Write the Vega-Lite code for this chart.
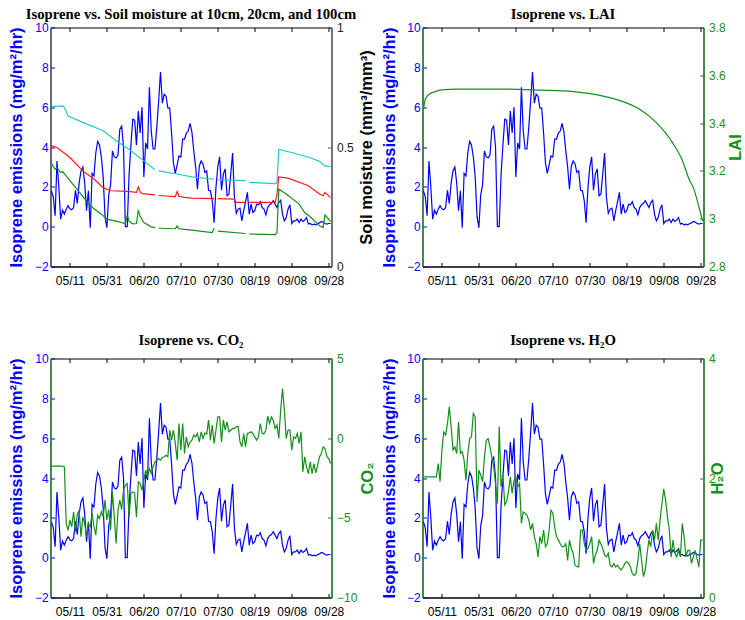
{
"$schema":"https://vega.github.io/schema/vega-lite/v6.json",
"background":"white",
"padding":{"left":7.5,"top":5.5,"right":2,"bottom":2},
"config":{
 "view":{"stroke":"#000","strokeWidth":1},
 "axis":{"grid":false,"labelFont":"Liberation Sans","labelFontSize":12,"titleFont":"Liberation Sans","titleFontSize":16.5,"titleFontWeight":"bold","tickSize":-4,"tickWidth":1,"domainWidth":1},
 "title":{"font":"Liberation Serif","fontSize":14.7,"fontWeight":"bold","color":"#000","frame":"group","anchor":"middle"}
},
"datasets":{
"daily":[
{"date":"2010-05-01","iso":1.8,"co2":-1.76,"h2o":2.02},
{"date":"2010-05-02","iso":1.5,"co2":-1.76,"h2o":2.02},
{"date":"2010-05-03","iso":0.55,"co2":-1.76,"h2o":2.02},
{"date":"2010-05-04","iso":3.3,"co2":-1.76,"h2o":2.02},
{"date":"2010-05-05","iso":2.0,"co2":-1.76,"h2o":2.02},
{"date":"2010-05-06","iso":0.38,"co2":-1.76,"h2o":2.02},
{"date":"2010-05-07","iso":0.83,"co2":-1.76,"h2o":2.02},
{"date":"2010-05-08","iso":0.63,"co2":-1.80,"h2o":2.02},
{"date":"2010-05-09","iso":0.88,"co2":-5.36,"h2o":2.24},
{"date":"2010-05-10","iso":1.05,"co2":-5.77,"h2o":1.94},
{"date":"2010-05-11","iso":0.9,"co2":-5.15,"h2o":2.47},
{"date":"2010-05-12","iso":0.85,"co2":-5.56,"h2o":2.77},
{"date":"2010-05-13","iso":0.96,"co2":-4.62,"h2o":2.72},
{"date":"2010-05-14","iso":1.83,"co2":-5.88,"h2o":2.91},
{"date":"2010-05-15","iso":1.16,"co2":-4.77,"h2o":3.19},
{"date":"2010-05-16","iso":2.2,"co2":-4.52,"h2o":2.86},
{"date":"2010-05-17","iso":2.8,"co2":-6.19,"h2o":2.47},
{"date":"2010-05-18","iso":3.0,"co2":-4.94,"h2o":2.52},
{"date":"2010-05-19","iso":2.2,"co2":-5.36,"h2o":2.41},
{"date":"2010-05-20","iso":0.8,"co2":-6.19,"h2o":2.94},
{"date":"2010-05-21","iso":1.8,"co2":-5.36,"h2o":2.41},
{"date":"2010-05-22","iso":-0.05,"co2":-5.56,"h2o":2.44},
{"date":"2010-05-23","iso":2.67,"co2":-4.73,"h2o":2.30},
{"date":"2010-05-24","iso":2.55,"co2":-5.56,"h2o":1.96},
{"date":"2010-05-25","iso":3.7,"co2":-6.09,"h2o":2.41},
{"date":"2010-05-26","iso":4.28,"co2":-4.83,"h2o":2.66},
{"date":"2010-05-27","iso":4.1,"co2":-5.04,"h2o":2.69},
{"date":"2010-05-28","iso":3.5,"co2":-4.62,"h2o":3.08},
{"date":"2010-05-29","iso":2.5,"co2":-4.94,"h2o":3.02},
{"date":"2010-05-30","iso":0.5,"co2":-3.89,"h2o":1.60},
{"date":"2010-05-31","iso":-0.05,"co2":-5.15,"h2o":2.13},
{"date":"2010-06-01","iso":1.6,"co2":-4.48,"h2o":2.05},
{"date":"2010-06-02","iso":2.1,"co2":-5.77,"h2o":1.94},
{"date":"2010-06-03","iso":3.8,"co2":-3.37,"h2o":2.35},
{"date":"2010-06-04","iso":3.5,"co2":-4.94,"h2o":2.63},
{"date":"2010-06-05","iso":3.45,"co2":-6.61,"h2o":2.66},
{"date":"2010-06-06","iso":3.6,"co2":-4.52,"h2o":2.52},
{"date":"2010-06-07","iso":4.9,"co2":-3.89,"h2o":2.35},
{"date":"2010-06-08","iso":5.05,"co2":-4.48,"h2o":2.19},
{"date":"2010-06-09","iso":4.0,"co2":-3.26,"h2o":1.91},
{"date":"2010-06-10","iso":0.0,"co2":-2.95,"h2o":1.57},
{"date":"2010-06-11","iso":0.0,"co2":-2.85,"h2o":2.86},
{"date":"2010-06-12","iso":2.6,"co2":-4.94,"h2o":1.85},
{"date":"2010-06-13","iso":4.1,"co2":-3.47,"h2o":2.05},
{"date":"2010-06-14","iso":5.4,"co2":-3.37,"h2o":1.55},
{"date":"2010-06-15","iso":5.35,"co2":-3.43,"h2o":1.60},
{"date":"2010-06-16","iso":4.1,"co2":-4.94,"h2o":1.77},
{"date":"2010-06-17","iso":5.8,"co2":-2.74,"h2o":2.02},
{"date":"2010-06-18","iso":4.7,"co2":-2.85,"h2o":1.74},
{"date":"2010-06-19","iso":6.0,"co2":-3.26,"h2o":1.96},
{"date":"2010-06-20","iso":2.5,"co2":-2.64,"h2o":2.02},
{"date":"2010-06-21","iso":4.2,"co2":-2.01,"h2o":1.85},
{"date":"2010-06-22","iso":3.9,"co2":-2.43,"h2o":1.91},
{"date":"2010-06-23","iso":7.0,"co2":-1.90,"h2o":1.24},
{"date":"2010-06-24","iso":4.8,"co2":-2.22,"h2o":1.43},
{"date":"2010-06-25","iso":3.9,"co2":-1.80,"h2o":1.41},
{"date":"2010-06-26","iso":3.9,"co2":-1.49,"h2o":1.38},
{"date":"2010-06-27","iso":5.0,"co2":-1.38,"h2o":1.29},
{"date":"2010-06-28","iso":6.3,"co2":-1.28,"h2o":1.13},
{"date":"2010-06-29","iso":7.77,"co2":-1.38,"h2o":1.24},
{"date":"2010-06-30","iso":6.2,"co2":-1.21,"h2o":1.02},
{"date":"2010-07-01","iso":6.65,"co2":-1.17,"h2o":0.90},
{"date":"2010-07-02","iso":6.55,"co2":-1.07,"h2o":0.68},
{"date":"2010-07-03","iso":5.95,"co2":-1.17,"h2o":1.02},
{"date":"2010-07-04","iso":5.95,"co2":0.50,"h2o":0.90},
{"date":"2010-07-05","iso":4.7,"co2":-0.13,"h2o":1.13},
{"date":"2010-07-06","iso":3.2,"co2":0.50,"h2o":0.85},
{"date":"2010-07-07","iso":2.67,"co2":-0.33,"h2o":0.90},
{"date":"2010-07-08","iso":3.1,"co2":-1.38,"h2o":1.13},
{"date":"2010-07-09","iso":3.55,"co2":0.92,"h2o":1.46},
{"date":"2010-07-10","iso":3.5,"co2":-0.75,"h2o":1.41},
{"date":"2010-07-11","iso":4.4,"co2":0.92,"h2o":1.18},
{"date":"2010-07-12","iso":4.4,"co2":-0.96,"h2o":1.02},
{"date":"2010-07-13","iso":4.7,"co2":0.08,"h2o":0.96},
{"date":"2010-07-14","iso":4.8,"co2":-0.54,"h2o":0.90},
{"date":"2010-07-15","iso":5.18,"co2":-0.23,"h2o":0.85},
{"date":"2010-07-16","iso":4.75,"co2":-0.13,"h2o":0.85},
{"date":"2010-07-17","iso":3.8,"co2":0.19,"h2o":0.90},
{"date":"2010-07-18","iso":3.0,"co2":0.08,"h2o":0.62},
{"date":"2010-07-19","iso":1.88,"co2":0.29,"h2o":0.96},
{"date":"2010-07-20","iso":3.05,"co2":-0.23,"h2o":0.82},
{"date":"2010-07-21","iso":3.3,"co2":0.40,"h2o":0.74},
{"date":"2010-07-22","iso":3.15,"co2":-0.02,"h2o":0.54},
{"date":"2010-07-23","iso":2.72,"co2":0.33,"h2o":0.52},
{"date":"2010-07-24","iso":2.8,"co2":0.25,"h2o":0.51},
{"date":"2010-07-25","iso":1.83,"co2":1.13,"h2o":1.13},
{"date":"2010-07-26","iso":1.8,"co2":-0.13,"h2o":1.13},
{"date":"2010-07-27","iso":1.3,"co2":0.82,"h2o":0.90},
{"date":"2010-07-28","iso":0.2,"co2":-0.33,"h2o":0.79},
{"date":"2010-07-29","iso":1.97,"co2":0.50,"h2o":0.82},
{"date":"2010-07-30","iso":3.0,"co2":1.34,"h2o":0.90},
{"date":"2010-07-31","iso":3.5,"co2":1.34,"h2o":1.02},
{"date":"2010-08-01","iso":1.83,"co2":-0.23,"h2o":0.57},
{"date":"2010-08-02","iso":2.64,"co2":1.13,"h2o":0.71},
{"date":"2010-08-03","iso":2.9,"co2":0.50,"h2o":0.79},
{"date":"2010-08-04","iso":1.55,"co2":1.03,"h2o":0.96},
{"date":"2010-08-05","iso":1.63,"co2":0.40,"h2o":0.90},
{"date":"2010-08-06","iso":2.64,"co2":0.50,"h2o":0.82},
{"date":"2010-08-07","iso":3.7,"co2":0.61,"h2o":0.71},
{"date":"2010-08-08","iso":1.47,"co2":0.61,"h2o":0.68},
{"date":"2010-08-09","iso":0.66,"co2":0.71,"h2o":0.74},
{"date":"2010-08-10","iso":0.88,"co2":0.75,"h2o":0.54},
{"date":"2010-08-11","iso":0.93,"co2":-0.23,"h2o":0.51},
{"date":"2010-08-12","iso":0.29,"co2":-0.54,"h2o":0.57},
{"date":"2010-08-13","iso":0.8,"co2":0.29,"h2o":0.51},
{"date":"2010-08-14","iso":1.25,"co2":-0.54,"h2o":0.54},
{"date":"2010-08-15","iso":1.72,"co2":0.29,"h2o":0.49},
{"date":"2010-08-16","iso":0.63,"co2":0.33,"h2o":0.46},
{"date":"2010-08-17","iso":1.13,"co2":0.40,"h2o":0.51},
{"date":"2010-08-18","iso":0.71,"co2":0.29,"h2o":0.57},
{"date":"2010-08-19","iso":0.8,"co2":0.08,"h2o":0.60},
{"date":"2010-08-20","iso":1.13,"co2":-0.13,"h2o":0.57},
{"date":"2010-08-21","iso":1.1,"co2":0.08,"h2o":0.51},
{"date":"2010-08-22","iso":1.25,"co2":0.92,"h2o":0.40},
{"date":"2010-08-23","iso":0.96,"co2":0.29,"h2o":0.37},
{"date":"2010-08-24","iso":0.88,"co2":0.29,"h2o":0.40},
{"date":"2010-08-25","iso":0.59,"co2":0.50,"h2o":0.62},
{"date":"2010-08-26","iso":0.96,"co2":1.38,"h2o":0.90},
{"date":"2010-08-27","iso":1.1,"co2":0.92,"h2o":0.62},
{"date":"2010-08-28","iso":1.16,"co2":1.34,"h2o":0.35},
{"date":"2010-08-29","iso":1.3,"co2":1.13,"h2o":0.46},
{"date":"2010-08-30","iso":1.13,"co2":0.61,"h2o":0.74},
{"date":"2010-08-31","iso":0.96,"co2":0.82,"h2o":0.96},
{"date":"2010-09-01","iso":1.21,"co2":-0.02,"h2o":0.85},
{"date":"2010-09-02","iso":1.33,"co2":1.76,"h2o":1.13},
{"date":"2010-09-03","iso":0.63,"co2":3.12,"h2o":0.96},
{"date":"2010-09-04","iso":0.29,"co2":1.76,"h2o":1.24},
{"date":"2010-09-05","iso":0.46,"co2":-0.02,"h2o":0.96},
{"date":"2010-09-06","iso":0.88,"co2":0.50,"h2o":1.29},
{"date":"2010-09-07","iso":1.1,"co2":0.50,"h2o":1.57},
{"date":"2010-09-08","iso":0.16,"co2":-0.75,"h2o":1.82},
{"date":"2010-09-09","iso":0.29,"co2":0.08,"h2o":1.63},
{"date":"2010-09-10","iso":0.29,"co2":-0.02,"h2o":1.35},
{"date":"2010-09-11","iso":0.38,"co2":0.29,"h2o":1.13},
{"date":"2010-09-12","iso":0.21,"co2":-0.33,"h2o":0.68},
{"date":"2010-09-13","iso":0.38,"co2":0.40,"h2o":0.96},
{"date":"2010-09-14","iso":0.26,"co2":-2.11,"h2o":0.74},
{"date":"2010-09-15","iso":0.33,"co2":-1.17,"h2o":0.68},
{"date":"2010-09-16","iso":0.46,"co2":-1.80,"h2o":0.79},
{"date":"2010-09-17","iso":0.13,"co2":-2.22,"h2o":0.68},
{"date":"2010-09-18","iso":0.16,"co2":-1.49,"h2o":1.24},
{"date":"2010-09-19","iso":0.09,"co2":-2.22,"h2o":1.02},
{"date":"2010-09-20","iso":0.13,"co2":-1.59,"h2o":0.68},
{"date":"2010-09-21","iso":0.09,"co2":-2.18,"h2o":0.79},
{"date":"2010-09-22","iso":0.16,"co2":-1.69,"h2o":0.79},
{"date":"2010-09-23","iso":0.19,"co2":-1.17,"h2o":0.57},
{"date":"2010-09-24","iso":0.26,"co2":-0.96,"h2o":0.68},
{"date":"2010-09-25","iso":0.23,"co2":-0.54,"h2o":0.79},
{"date":"2010-09-26","iso":0.16,"co2":-0.65,"h2o":0.65},
{"date":"2010-09-27","iso":0.13,"co2":-1.17,"h2o":0.51},
{"date":"2010-09-28","iso":0.16,"co2":-1.28,"h2o":0.96},
{"date":"2010-09-29","iso":0.16,"co2":-1.59,"h2o":0.96}
],
"soil":[
{"date":"2010-05-01","depth":"100cm","sm":0.669},
{"date":"2010-05-07","depth":"100cm","sm":0.672},
{"date":"2010-05-08","depth":"100cm","sm":0.665},
{"date":"2010-05-10","depth":"100cm","sm":0.63},
{"date":"2010-05-18","depth":"100cm","sm":0.603},
{"date":"2010-05-29","depth":"100cm","sm":0.568},
{"date":"2010-06-05","depth":"100cm","sm":0.526},
{"date":"2010-06-13","depth":"100cm","sm":0.484},
{"date":"2010-06-20","depth":"100cm","sm":0.442},
{"date":"2010-06-26","depth":"100cm","sm":0.405},
{"date":"2010-06-27","depth":"100cm","sm":null},
{"date":"2010-06-28","depth":"100cm","sm":0.40},
{"date":"2010-07-08","depth":"100cm","sm":0.387},
{"date":"2010-07-16","depth":"100cm","sm":0.375},
{"date":"2010-07-28","depth":"100cm","sm":0.365},
{"date":"2010-07-29","depth":"100cm","sm":null},
{"date":"2010-07-30","depth":"100cm","sm":0.363},
{"date":"2010-08-14","depth":"100cm","sm":0.359},
{"date":"2010-08-15","depth":"100cm","sm":null},
{"date":"2010-08-16","depth":"100cm","sm":0.352},
{"date":"2010-08-30","depth":"100cm","sm":0.347},
{"date":"2010-08-31","depth":"100cm","sm":0.35},
{"date":"2010-09-01","depth":"100cm","sm":0.49},
{"date":"2010-09-08","depth":"100cm","sm":0.477},
{"date":"2010-09-18","depth":"100cm","sm":0.455},
{"date":"2010-09-23","depth":"100cm","sm":0.44},
{"date":"2010-09-26","depth":"100cm","sm":0.421},
{"date":"2010-09-29","depth":"100cm","sm":0.418},
{"date":"2010-05-01","depth":"20cm","sm":0.505},
{"date":"2010-05-04","depth":"20cm","sm":0.498},
{"date":"2010-05-11","depth":"20cm","sm":0.456},
{"date":"2010-05-18","depth":"20cm","sm":0.40},
{"date":"2010-05-24","depth":"20cm","sm":0.366},
{"date":"2010-05-29","depth":"20cm","sm":0.33},
{"date":"2010-06-02","depth":"20cm","sm":0.317},
{"date":"2010-06-11","depth":"20cm","sm":0.314},
{"date":"2010-06-16","depth":"20cm","sm":0.31},
{"date":"2010-06-17","depth":"20cm","sm":0.333},
{"date":"2010-06-18","depth":"20cm","sm":0.312},
{"date":"2010-06-19","depth":"20cm","sm":0.305},
{"date":"2010-06-26","depth":"20cm","sm":0.30},
{"date":"2010-06-27","depth":"20cm","sm":null},
{"date":"2010-06-28","depth":"20cm","sm":0.297},
{"date":"2010-07-07","depth":"20cm","sm":0.292},
{"date":"2010-07-08","depth":"20cm","sm":0.314},
{"date":"2010-07-09","depth":"20cm","sm":0.294},
{"date":"2010-07-12","depth":"20cm","sm":0.289},
{"date":"2010-07-16","depth":"20cm","sm":0.286},
{"date":"2010-07-28","depth":"20cm","sm":0.284},
{"date":"2010-07-29","depth":"20cm","sm":null},
{"date":"2010-07-30","depth":"20cm","sm":0.284},
{"date":"2010-08-08","depth":"20cm","sm":0.282},
{"date":"2010-08-09","depth":"20cm","sm":0.268},
{"date":"2010-08-14","depth":"20cm","sm":0.268},
{"date":"2010-08-15","depth":"20cm","sm":null},
{"date":"2010-08-16","depth":"20cm","sm":0.268},
{"date":"2010-08-30","depth":"20cm","sm":0.268},
{"date":"2010-08-31","depth":"20cm","sm":0.30},
{"date":"2010-09-01","depth":"20cm","sm":0.375},
{"date":"2010-09-06","depth":"20cm","sm":0.37},
{"date":"2010-09-17","depth":"20cm","sm":0.338},
{"date":"2010-09-23","depth":"20cm","sm":0.303},
{"date":"2010-09-25","depth":"20cm","sm":0.296},
{"date":"2010-09-26","depth":"20cm","sm":0.31},
{"date":"2010-09-29","depth":"20cm","sm":0.288},
{"date":"2010-05-01","depth":"10cm","sm":0.431},
{"date":"2010-05-03","depth":"10cm","sm":0.407},
{"date":"2010-05-04","depth":"10cm","sm":0.414},
{"date":"2010-05-06","depth":"10cm","sm":0.393},
{"date":"2010-05-07","depth":"10cm","sm":0.397},
{"date":"2010-05-11","depth":"10cm","sm":0.359},
{"date":"2010-05-17","depth":"10cm","sm":0.303},
{"date":"2010-05-22","depth":"10cm","sm":0.254},
{"date":"2010-05-28","depth":"10cm","sm":0.219},
{"date":"2010-05-31","depth":"10cm","sm":0.198},
{"date":"2010-06-06","depth":"10cm","sm":0.188},
{"date":"2010-06-10","depth":"10cm","sm":0.18},
{"date":"2010-06-11","depth":"10cm","sm":0.216},
{"date":"2010-06-12","depth":"10cm","sm":0.19},
{"date":"2010-06-14","depth":"10cm","sm":0.178},
{"date":"2010-06-16","depth":"10cm","sm":0.18},
{"date":"2010-06-17","depth":"10cm","sm":0.236},
{"date":"2010-06-18","depth":"10cm","sm":0.21},
{"date":"2010-06-20","depth":"10cm","sm":0.184},
{"date":"2010-06-24","depth":"10cm","sm":0.166},
{"date":"2010-06-26","depth":"10cm","sm":0.163},
{"date":"2010-06-27","depth":"10cm","sm":null},
{"date":"2010-06-28","depth":"10cm","sm":0.16},
{"date":"2010-07-07","depth":"10cm","sm":0.158},
{"date":"2010-07-08","depth":"10cm","sm":0.17},
{"date":"2010-07-09","depth":"10cm","sm":0.158},
{"date":"2010-07-12","depth":"10cm","sm":0.155},
{"date":"2010-07-16","depth":"10cm","sm":0.152},
{"date":"2010-07-27","depth":"10cm","sm":0.142},
{"date":"2010-07-28","depth":"10cm","sm":0.16},
{"date":"2010-07-29","depth":"10cm","sm":null},
{"date":"2010-07-30","depth":"10cm","sm":0.148},
{"date":"2010-08-14","depth":"10cm","sm":0.138},
{"date":"2010-08-15","depth":"10cm","sm":null},
{"date":"2010-08-16","depth":"10cm","sm":0.136},
{"date":"2010-08-30","depth":"10cm","sm":0.133},
{"date":"2010-08-31","depth":"10cm","sm":0.14},
{"date":"2010-09-01","depth":"10cm","sm":0.324},
{"date":"2010-09-05","depth":"10cm","sm":0.303},
{"date":"2010-09-12","depth":"10cm","sm":0.261},
{"date":"2010-09-15","depth":"10cm","sm":0.226},
{"date":"2010-09-18","depth":"10cm","sm":0.208},
{"date":"2010-09-23","depth":"10cm","sm":0.17},
{"date":"2010-09-25","depth":"10cm","sm":0.163},
{"date":"2010-09-26","depth":"10cm","sm":0.216},
{"date":"2010-09-29","depth":"10cm","sm":0.188}
],
"lai":[
{"date":"2010-05-01","lai":3.455},
{"date":"2010-05-02","lai":3.50},
{"date":"2010-05-04","lai":3.52},
{"date":"2010-05-06","lai":3.528},
{"date":"2010-05-08","lai":3.534},
{"date":"2010-05-11","lai":3.539},
{"date":"2010-05-19","lai":3.542},
{"date":"2010-06-15","lai":3.542},
{"date":"2010-07-03","lai":3.538},
{"date":"2010-07-21","lai":3.532},
{"date":"2010-08-08","lai":3.51},
{"date":"2010-08-17","lai":3.49},
{"date":"2010-08-26","lai":3.458},
{"date":"2010-09-04","lai":3.402},
{"date":"2010-09-13","lai":3.315},
{"date":"2010-09-18","lai":3.245},
{"date":"2010-09-22","lai":3.16},
{"date":"2010-09-24","lai":3.13},
{"date":"2010-09-27","lai":3.05},
{"date":"2010-09-29","lai":2.99}
]
},
"columns":2,
"spacing":{"row":92,"column":91},
"bounds":"flush",
"concat":[
{
 "width":281,"height":239,
 "title":{"text":"Isoprene vs. Soil moisture at 10cm, 20cm, and 100cm","offset":0},
 "resolve":{"scale":{"y":"independent"},"axis":{"x":"independent"}},
 "layer":[
  {"data":{"name":"daily"},
   "mark":{"type":"line","color":"#0000ff","strokeWidth":1.2},
   "encoding":{
    "x":{"field":"date","type":"temporal","scale":{"type":"utc","domain":[{"year":2010,"month":4,"date":30,"hours":12,"utc":true},{"year":2010,"month":9,"date":29,"hours":12,"utc":true}]},
     "axis":{"orient":"bottom","title":null,"format":"%m/%d","labelPadding":12.7,"tickColor":"#000","domainColor":"#000","labelColor":"#000",
      "values":[{"year":2010,"month":5,"date":11,"utc":true},{"year":2010,"month":5,"date":31,"utc":true},{"year":2010,"month":6,"date":20,"utc":true},{"year":2010,"month":7,"date":10,"utc":true},{"year":2010,"month":7,"date":30,"utc":true},{"year":2010,"month":8,"date":19,"utc":true},{"year":2010,"month":9,"date":8,"utc":true},{"year":2010,"month":9,"date":28,"utc":true}]}},
    "y":{"field":"iso","type":"quantitative","scale":{"domain":[-2,10],"nice":false,"zero":false},
     "axis":{"orient":"left","values":[-2,0,2,4,6,8,10],"format":"~r","title":"Isoprene emissions (mg/m²/hr)","titleColor":"#0000ff","labelColor":"#0000ff","tickColor":"#0000ff","domainColor":"#555","labelPadding":6.3,"titlePadding":10}}
   }},
  {"data":{"name":"soil"},
   "mark":{"type":"line","strokeWidth":1.2,"invalid":"break-paths-show-domains"},
   "encoding":{
    "x":{"field":"date","type":"temporal","scale":{"type":"utc","domain":[{"year":2010,"month":4,"date":30,"hours":12,"utc":true},{"year":2010,"month":9,"date":29,"hours":12,"utc":true}]},
     "axis":{"orient":"top","title":null,"labels":false,"domain":false,"tickColor":"#000",
      "values":[{"year":2010,"month":5,"date":11,"utc":true},{"year":2010,"month":5,"date":31,"utc":true},{"year":2010,"month":6,"date":20,"utc":true},{"year":2010,"month":7,"date":10,"utc":true},{"year":2010,"month":7,"date":30,"utc":true},{"year":2010,"month":8,"date":19,"utc":true},{"year":2010,"month":9,"date":8,"utc":true},{"year":2010,"month":9,"date":28,"utc":true}]}},
    "y":{"field":"sm","type":"quantitative","scale":{"domain":[0,1],"nice":false},
     "axis":{"orient":"right","values":[0,0.5,1],"format":"~r","title":"Soil moisture (mm³/mm³)","titleAngle":270,"titleBaseline":"top","titleColor":"#000","labelColor":"#222","tickColor":"#555","domainColor":"#666","labelPadding":9,"titlePadding":5}},
    "color":{"field":"depth","type":"nominal","scale":{"domain":["10cm","20cm","100cm"],"range":["#13901a","#ff1a1a","#22c8c8"]},"legend":null}
   }}
 ]
},
{
 "width":281,"height":239,
 "title":{"text":"Isoprene vs. LAI","offset":0},
 "resolve":{"scale":{"y":"independent"},"axis":{"x":"independent"}},
 "layer":[
  {"data":{"name":"daily"},
   "mark":{"type":"line","color":"#0000ff","strokeWidth":1.2},
   "encoding":{
    "x":{"field":"date","type":"temporal","scale":{"type":"utc","domain":[{"year":2010,"month":4,"date":30,"hours":12,"utc":true},{"year":2010,"month":9,"date":29,"hours":12,"utc":true}]},
     "axis":{"orient":"bottom","title":null,"format":"%m/%d","labelPadding":12.7,"tickColor":"#000","domainColor":"#000","labelColor":"#000",
      "values":[{"year":2010,"month":5,"date":11,"utc":true},{"year":2010,"month":5,"date":31,"utc":true},{"year":2010,"month":6,"date":20,"utc":true},{"year":2010,"month":7,"date":10,"utc":true},{"year":2010,"month":7,"date":30,"utc":true},{"year":2010,"month":8,"date":19,"utc":true},{"year":2010,"month":9,"date":8,"utc":true},{"year":2010,"month":9,"date":28,"utc":true}]}},
    "y":{"field":"iso","type":"quantitative","scale":{"domain":[-2,10],"nice":false,"zero":false},
     "axis":{"orient":"left","values":[-2,0,2,4,6,8,10],"format":"~r","title":"Isoprene emissions (mg/m²/hr)","titleColor":"#0000ff","labelColor":"#0000ff","tickColor":"#0000ff","domainColor":"#13901a","labelPadding":6.3,"titlePadding":9}}
   }},
  {"data":{"name":"lai"},
   "mark":{"type":"line","color":"#13901a","strokeWidth":1.2,"interpolate":"monotone"},
   "encoding":{
    "x":{"field":"date","type":"temporal","scale":{"type":"utc","domain":[{"year":2010,"month":4,"date":30,"hours":12,"utc":true},{"year":2010,"month":9,"date":29,"hours":12,"utc":true}]},
     "axis":{"orient":"top","title":null,"labels":false,"domain":false,"tickColor":"#000",
      "values":[{"year":2010,"month":5,"date":11,"utc":true},{"year":2010,"month":5,"date":31,"utc":true},{"year":2010,"month":6,"date":20,"utc":true},{"year":2010,"month":7,"date":10,"utc":true},{"year":2010,"month":7,"date":30,"utc":true},{"year":2010,"month":8,"date":19,"utc":true},{"year":2010,"month":9,"date":8,"utc":true},{"year":2010,"month":9,"date":28,"utc":true}]}},
    "y":{"field":"lai","type":"quantitative","scale":{"domain":[2.8,3.8],"nice":false,"zero":false},
     "axis":{"orient":"right","values":[2.8,3,3.2,3.4,3.6,3.8],"format":"~r","title":"LAI","titleAngle":270,"titleBaseline":"top","titleColor":"#13901a","labelColor":"#13901a","tickColor":"#13901a","domainColor":"#13901a","labelPadding":9,"titlePadding":2}}
   }}
 ]
},
{
 "width":281,"height":239,
 "title":{"text":"Isoprene vs. CO₂","offset":5},
 "resolve":{"scale":{"y":"independent"},"axis":{"x":"independent"}},
 "layer":[
  {"data":{"name":"daily"},
   "mark":{"type":"line","color":"#0000ff","strokeWidth":1.2},
   "encoding":{
    "x":{"field":"date","type":"temporal","scale":{"type":"utc","domain":[{"year":2010,"month":4,"date":30,"hours":12,"utc":true},{"year":2010,"month":9,"date":29,"hours":12,"utc":true}]},
     "axis":{"orient":"bottom","title":null,"format":"%m/%d","labelPadding":12.7,"tickColor":"#000","domainColor":"#000","labelColor":"#000",
      "values":[{"year":2010,"month":5,"date":11,"utc":true},{"year":2010,"month":5,"date":31,"utc":true},{"year":2010,"month":6,"date":20,"utc":true},{"year":2010,"month":7,"date":10,"utc":true},{"year":2010,"month":7,"date":30,"utc":true},{"year":2010,"month":8,"date":19,"utc":true},{"year":2010,"month":9,"date":8,"utc":true},{"year":2010,"month":9,"date":28,"utc":true}]}},
    "y":{"field":"iso","type":"quantitative","scale":{"domain":[-2,10],"nice":false,"zero":false},
     "axis":{"orient":"left","values":[-2,0,2,4,6,8,10],"format":"~r","title":"Isoprene emissions (mg/m²/hr)","titleColor":"#0000ff","labelColor":"#0000ff","tickColor":"#0000ff","domainColor":"#13901a","labelPadding":6.3,"titlePadding":10}}
   }},
  {"data":{"name":"daily"},
   "mark":{"type":"line","color":"#13901a","strokeWidth":1.2},
   "encoding":{
    "x":{"field":"date","type":"temporal","scale":{"type":"utc","domain":[{"year":2010,"month":4,"date":30,"hours":12,"utc":true},{"year":2010,"month":9,"date":29,"hours":12,"utc":true}]},
     "axis":{"orient":"top","title":null,"labels":false,"domain":false,"tickColor":"#000",
      "values":[{"year":2010,"month":5,"date":11,"utc":true},{"year":2010,"month":5,"date":31,"utc":true},{"year":2010,"month":6,"date":20,"utc":true},{"year":2010,"month":7,"date":10,"utc":true},{"year":2010,"month":7,"date":30,"utc":true},{"year":2010,"month":8,"date":19,"utc":true},{"year":2010,"month":9,"date":8,"utc":true},{"year":2010,"month":9,"date":28,"utc":true}]}},
    "y":{"field":"co2","type":"quantitative","scale":{"domain":[-10,5],"nice":false,"zero":false},
     "axis":{"orient":"right","values":[-10,-5,0,5],"format":"~r","title":"CO₂","titleAngle":270,"titleBaseline":"top","titleColor":"#13901a","labelColor":"#13901a","tickColor":"#13901a","domainColor":"#13901a","labelPadding":9,"titlePadding":3}}
   }}
 ]
},
{
 "width":281,"height":239,
 "title":{"text":"Isoprene vs. H₂O","offset":5},
 "resolve":{"scale":{"y":"independent"},"axis":{"x":"independent"}},
 "layer":[
  {"data":{"name":"daily"},
   "mark":{"type":"line","color":"#0000ff","strokeWidth":1.2},
   "encoding":{
    "x":{"field":"date","type":"temporal","scale":{"type":"utc","domain":[{"year":2010,"month":4,"date":30,"hours":12,"utc":true},{"year":2010,"month":9,"date":29,"hours":12,"utc":true}]},
     "axis":{"orient":"bottom","title":null,"format":"%m/%d","labelPadding":12.7,"tickColor":"#000","domainColor":"#000","labelColor":"#000",
      "values":[{"year":2010,"month":5,"date":11,"utc":true},{"year":2010,"month":5,"date":31,"utc":true},{"year":2010,"month":6,"date":20,"utc":true},{"year":2010,"month":7,"date":10,"utc":true},{"year":2010,"month":7,"date":30,"utc":true},{"year":2010,"month":8,"date":19,"utc":true},{"year":2010,"month":9,"date":8,"utc":true},{"year":2010,"month":9,"date":28,"utc":true}]}},
    "y":{"field":"iso","type":"quantitative","scale":{"domain":[-2,10],"nice":false,"zero":false},
     "axis":{"orient":"left","values":[-2,0,2,4,6,8,10],"format":"~r","title":"Isoprene emissions (mg/m²/hr)","titleColor":"#0000ff","labelColor":"#0000ff","tickColor":"#0000ff","domainColor":"#13901a","labelPadding":6.3,"titlePadding":9}}
   }},
  {"data":{"name":"daily"},
   "mark":{"type":"line","color":"#13901a","strokeWidth":1.2},
   "encoding":{
    "x":{"field":"date","type":"temporal","scale":{"type":"utc","domain":[{"year":2010,"month":4,"date":30,"hours":12,"utc":true},{"year":2010,"month":9,"date":29,"hours":12,"utc":true}]},
     "axis":{"orient":"top","title":null,"labels":false,"domain":false,"tickColor":"#000",
      "values":[{"year":2010,"month":5,"date":11,"utc":true},{"year":2010,"month":5,"date":31,"utc":true},{"year":2010,"month":6,"date":20,"utc":true},{"year":2010,"month":7,"date":10,"utc":true},{"year":2010,"month":7,"date":30,"utc":true},{"year":2010,"month":8,"date":19,"utc":true},{"year":2010,"month":9,"date":8,"utc":true},{"year":2010,"month":9,"date":28,"utc":true}]}},
    "y":{"field":"h2o","type":"quantitative","scale":{"domain":[0,4],"nice":false,"zero":false},
     "axis":{"orient":"right","values":[0,2,4],"format":"~r","title":"H₂O","titleAngle":270,"titleBaseline":"top","titleColor":"#13901a","labelColor":"#13901a","tickColor":"#13901a","domainColor":"#13901a","labelPadding":9,"titlePadding":-6}}
   }}
 ]
}
]
}
